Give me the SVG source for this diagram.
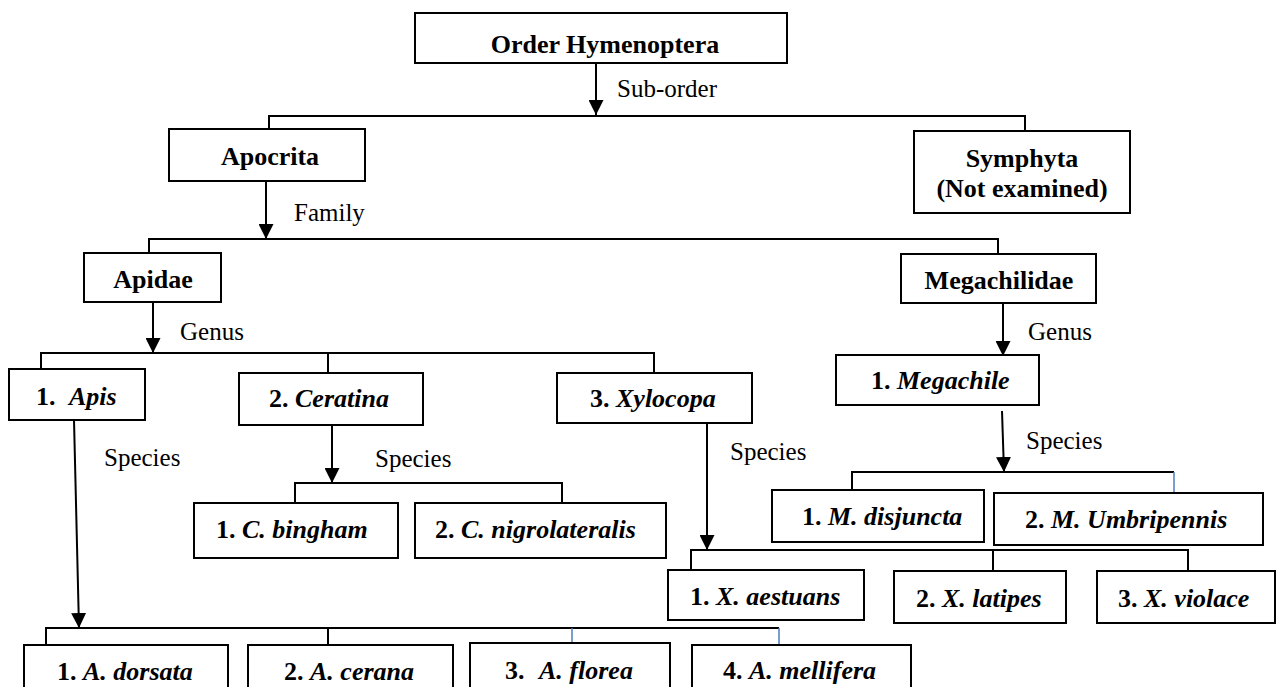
<svg xmlns="http://www.w3.org/2000/svg" width="1277" height="687" viewBox="0 0 1277 687">
<style>
.box{fill:#fff;stroke:#000;stroke-width:2}
.ln{stroke:#000;stroke-width:2;fill:none}
.bl{stroke:#4a7ebb;stroke-width:1.5;fill:none}
.lbl{font-family:"Liberation Serif","Times New Roman",serif;font-size:25px;fill:#000}
.nt{font-family:"Liberation Serif","Times New Roman",serif;font-size:26px;font-weight:bold;fill:#000}
.it{font-style:italic}
</style>
<defs>
<marker id="ah" markerWidth="15" markerHeight="15" refX="15" refY="7.5" orient="auto" markerUnits="userSpaceOnUse">
<path d="M0,0 L15,7.5 L0,15 z" fill="#000"/>
</marker>
</defs>
<rect width="1277" height="687" fill="#fff"/>
<g id="connectors">
<line class="ln" x1="596" y1="63" x2="596" y2="115" marker-end="url(#ah)"/>
<polyline class="ln" points="269,129 269,116 1025,116 1025,131"/>
<line class="ln" x1="266" y1="181" x2="266" y2="239" marker-end="url(#ah)"/>
<polyline class="ln" points="149,253 149,239 998,239 998,254"/>
<line class="ln" x1="153" y1="302" x2="153" y2="353" marker-end="url(#ah)"/>
<polyline class="ln" points="41,369 41,353 654,353 654,373"/>
<line class="ln" x1="328" y1="353" x2="328" y2="373"/>
<line class="ln" x1="1003" y1="303" x2="1003" y2="356" marker-end="url(#ah)"/>
<line class="ln" x1="74" y1="420" x2="79" y2="628" marker-end="url(#ah)"/>
<polyline class="ln" points="46,645 46,628 779,628"/>
<line class="ln" x1="328" y1="628" x2="328" y2="645"/>
<line class="bl" x1="572" y1="628" x2="572" y2="643"/>
<line class="bl" x1="779" y1="628" x2="779" y2="645"/>
<line class="ln" x1="332" y1="425" x2="332" y2="483" marker-end="url(#ah)"/>
<polyline class="ln" points="295,503 295,483 562,483 562,503"/>
<line class="ln" x1="707" y1="423" x2="707" y2="550" marker-end="url(#ah)"/>
<polyline class="ln" points="691,570 691,550 1188,550 1188,571"/>
<line class="ln" x1="993" y1="550" x2="993" y2="571"/>
<line class="ln" x1="1002" y1="411" x2="1004" y2="472" marker-end="url(#ah)"/>
<polyline class="ln" points="852,490 852,472 1174,472"/>
<line class="bl" x1="1174" y1="472" x2="1174" y2="493"/>
<text class="lbl" x="617" y="97">Sub-order</text>
<text class="lbl" x="294" y="221">Family</text>
<text class="lbl" x="180" y="340">Genus</text>
<text class="lbl" x="1028" y="340">Genus</text>
<text class="lbl" x="104" y="466">Species</text>
<text class="lbl" x="375" y="467">Species</text>
<text class="lbl" x="730" y="460">Species</text>
<text class="lbl" x="1026" y="449">Species</text>
</g>
<g id="order">
<rect class="box" x="415" y="13" width="372" height="50"/>
<text class="nt" x="605" y="53" text-anchor="middle">Order Hymenoptera</text>
</g>
<g id="apocrita">
<rect class="box" x="169" y="129" width="196" height="52"/>
<text class="nt" x="270" y="165" text-anchor="middle">Apocrita</text>
</g>
<g id="symphyta">
<rect class="box" x="914" y="131" width="216" height="82"/>
<text class="nt" x="1022" y="167" text-anchor="middle">Symphyta</text>
<text class="nt" x="1022" y="197" text-anchor="middle">(Not examined)</text>
</g>
<g id="apidae">
<rect class="box" x="84" y="253" width="137" height="49"/>
<text class="nt" x="153" y="288" text-anchor="middle">Apidae</text>
</g>
<g id="megachilidae">
<rect class="box" x="901" y="254" width="195" height="49"/>
<text class="nt" x="999" y="289" text-anchor="middle">Megachilidae</text>
</g>
<g id="apis">
<rect class="box" x="9" y="369" width="136" height="51"/>
<text class="nt" x="36" y="405">1.<tspan class="it" x="69">Apis</tspan></text>
</g>
<g id="ceratina">
<rect class="box" x="239" y="373" width="184" height="52"/>
<text class="nt" x="269" y="407">2. <tspan class="it">Ceratina</tspan></text>
</g>
<g id="xylocopa">
<rect class="box" x="557" y="373" width="195" height="50"/>
<text class="nt" x="590" y="407">3. <tspan class="it">Xylocopa</tspan></text>
</g>
<g id="megachile">
<rect class="box" x="836" y="355" width="203" height="50"/>
<text class="nt" x="871" y="389">1. <tspan class="it">Megachile</tspan></text>
</g>
<g id="c-bingham">
<rect class="box" x="194" y="503" width="204" height="55"/>
<text class="nt" x="216" y="538">1. <tspan class="it">C. bingham</tspan></text>
</g>
<g id="c-nigrolateralis">
<rect class="box" x="415" y="503" width="251" height="55"/>
<text class="nt" x="435" y="538">2. <tspan class="it">C. nigrolateralis</tspan></text>
</g>
<g id="m-disjuncta">
<rect class="box" x="772" y="490" width="212" height="52"/>
<text class="nt" x="802" y="525">1. <tspan class="it">M. disjuncta</tspan></text>
</g>
<g id="m-umbripennis">
<rect class="box" x="994" y="493" width="269" height="52"/>
<text class="nt" x="1025" y="528">2. <tspan class="it">M. Umbripennis</tspan></text>
</g>
<g id="x-aestuans">
<rect class="box" x="668" y="570" width="196" height="50"/>
<text class="nt" x="690" y="605">1. <tspan class="it">X. aestuans</tspan></text>
</g>
<g id="x-latipes">
<rect class="box" x="894" y="571" width="172" height="52"/>
<text class="nt" x="916" y="607">2. <tspan class="it">X. latipes</tspan></text>
</g>
<g id="x-violace">
<rect class="box" x="1097" y="571" width="178" height="52"/>
<text class="nt" x="1118" y="607">3. <tspan class="it">X. violace</tspan></text>
</g>
<g id="a-dorsata">
<rect class="box" x="24" y="645" width="204" height="60"/>
<text class="nt" x="57" y="680">1. <tspan class="it">A. dorsata</tspan></text>
</g>
<g id="a-cerana">
<rect class="box" x="248" y="645" width="205" height="60"/>
<text class="nt" x="284" y="680">2. <tspan class="it">A. cerana</tspan></text>
</g>
<g id="a-florea">
<rect class="box" x="470" y="643" width="200" height="62"/>
<text class="nt" x="505" y="679">3.<tspan class="it" x="539">A. florea</tspan></text>
</g>
<g id="a-mellifera">
<rect class="box" x="692" y="645" width="219" height="60"/>
<text class="nt" x="723" y="679">4. <tspan class="it">A. mellifera</tspan></text>
</g>
</svg>
